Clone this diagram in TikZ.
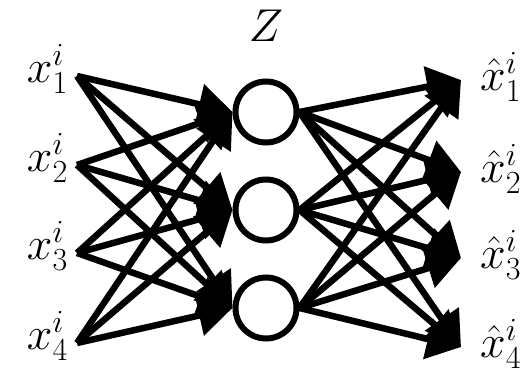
\RequirePackage{fix-cm}
\documentclass[tikz,border=0pt]{standalone}
\usetikzlibrary{arrows.meta,positioning}
\tikzset{
  unit/.style={circle, draw, line width=6pt, minimum size=61pt, inner sep=0pt},
  lbl/.style={inner sep=0pt, font=\fontsize{46}{52}\selectfont},
  link/.style={line width=6.5pt, -{Triangle[length=34pt,width=40pt]}},
}
\begin{document}
\begin{tikzpicture}[x=1pt,y=-1pt]
  \useasboundingbox (0,0) rectangle (528,377);
  % code layer
  \node[unit] (h1) at (266,112) {};
  \node[unit, below=31pt of h1] (h2) {};
  \node[unit, below=31pt of h2] (h3) {};
  \node[lbl, above=37pt of h1] (z) {$Z$};
  % inputs and outputs
  \foreach \k/\a/\b in {1/76/80, 2/165/172, 3/253/258, 4/343/347} {
    \coordinate (in\k) at (77,\a);
    \coordinate (out\k) at (461,\b);
    \node[lbl, anchor=east] (x\k) at ([xshift=-9pt,yshift=7pt]in\k) {$x_\k^i$};
    \node[lbl, anchor=west] (y\k) at ([xshift=19pt,yshift=3pt]out\k) {$\hat{x}_\k^i$};
  }
  % links
  \foreach \k in {1,...,4}
    \foreach \j in {1,2,3} {
      \draw[link] (in\k) -- (h\j.west);
      \draw[link] (h\j.east) -- (out\k);
    }
\end{tikzpicture}
\end{document}
